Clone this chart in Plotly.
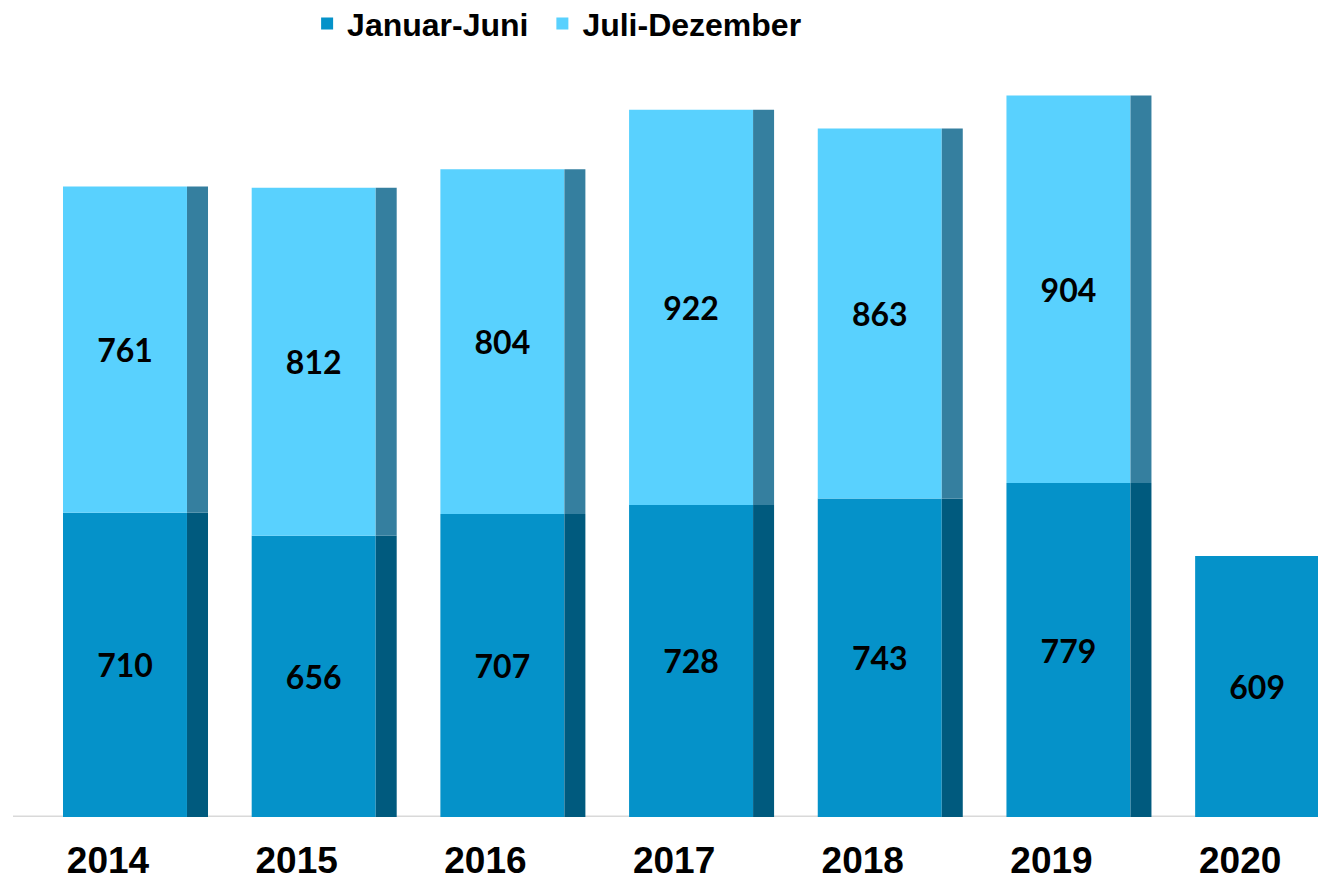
import plotly.graph_objects as go

years = ["2014", "2015", "2016", "2017", "2018", "2019", "2020"]
jan_jun = [710, 656, 707, 728, 743, 779, 609]
jul_dez = [761, 812, 804, 922, 863, 904, None]
series_names = ["Januar-Juni", "Juli-Dezember"]

c_jan = "#0592c9"
c_jan_side = "#005a7e"
c_jul = "#59d1fe"
c_jul_side = "#357f9f"

xpos = list(range(len(years)))
front_off, front_w = -0.2385, 0.657
side_off, side_w = 0.4187, 0.1113

jul_vals = [v if v is not None else 0 for v in jul_dez]
label_font = dict(family="Lato", size=32, color="black", weight="bold")

fig = go.Figure()
fig.add_trace(go.Bar(
    x=xpos, y=jan_jun, base=[0]*len(years), offset=front_off, width=front_w,
    marker=dict(color=c_jan, line=dict(width=0)), name=series_names[0] + "\u00a0",
    text=[str(v) for v in jan_jun], textposition="inside", insidetextanchor="middle",
    textangle=0, textfont=label_font, hoverinfo="skip"))
fig.add_trace(go.Bar(
    x=xpos, y=jan_jun, base=[0]*len(years), offset=side_off, width=side_w,
    marker=dict(color=c_jan_side, line=dict(width=0)), showlegend=False, hoverinfo="skip"))
fig.add_trace(go.Bar(
    x=xpos, y=jul_vals, base=jan_jun, offset=front_off, width=front_w,
    marker=dict(color=c_jul, line=dict(width=0)), name=series_names[1],
    text=[str(v) if v is not None else "" for v in jul_dez], textposition="inside",
    insidetextanchor="middle", textangle=0, textfont=label_font, hoverinfo="skip"))
fig.add_trace(go.Bar(
    x=xpos, y=jul_vals, base=jan_jun, offset=side_off, width=side_w,
    marker=dict(color=c_jul_side, line=dict(width=0)), showlegend=False, hoverinfo="skip"))

fig.update_layout(
    width=1318, height=872,
    barmode="overlay",
    plot_bgcolor="white", paper_bgcolor="white",
    margin=dict(l=5, r=0, t=52, b=63, autoexpand=False),
    showlegend=True,
    legend=dict(orientation="h", x=0.224, xanchor="left", y=1.048, yanchor="middle",
                yref="paper",
                font=dict(family="Liberation Sans", size=32, color="black", weight="bold"),
                traceorder="normal"),
    xaxis=dict(range=[-0.5035, 6.455], tickmode="array", tickvals=xpos, ticktext=years,
               showgrid=False, zeroline=False, showline=False, ticks="", automargin=False,
               tickfont=dict(family="Liberation Sans", size=37, color="black", weight="bold"),
               ticklabelstandoff=18),
    yaxis=dict(range=[0, 1766], visible=False, showgrid=False, zeroline=False),
    shapes=[dict(type="line", xref="paper", yref="y", x0=0, x1=1, y0=0, y1=0,
                 line=dict(color="#d9d9d9", width=3), layer="below")],
)

fig.write_html("out.html")
